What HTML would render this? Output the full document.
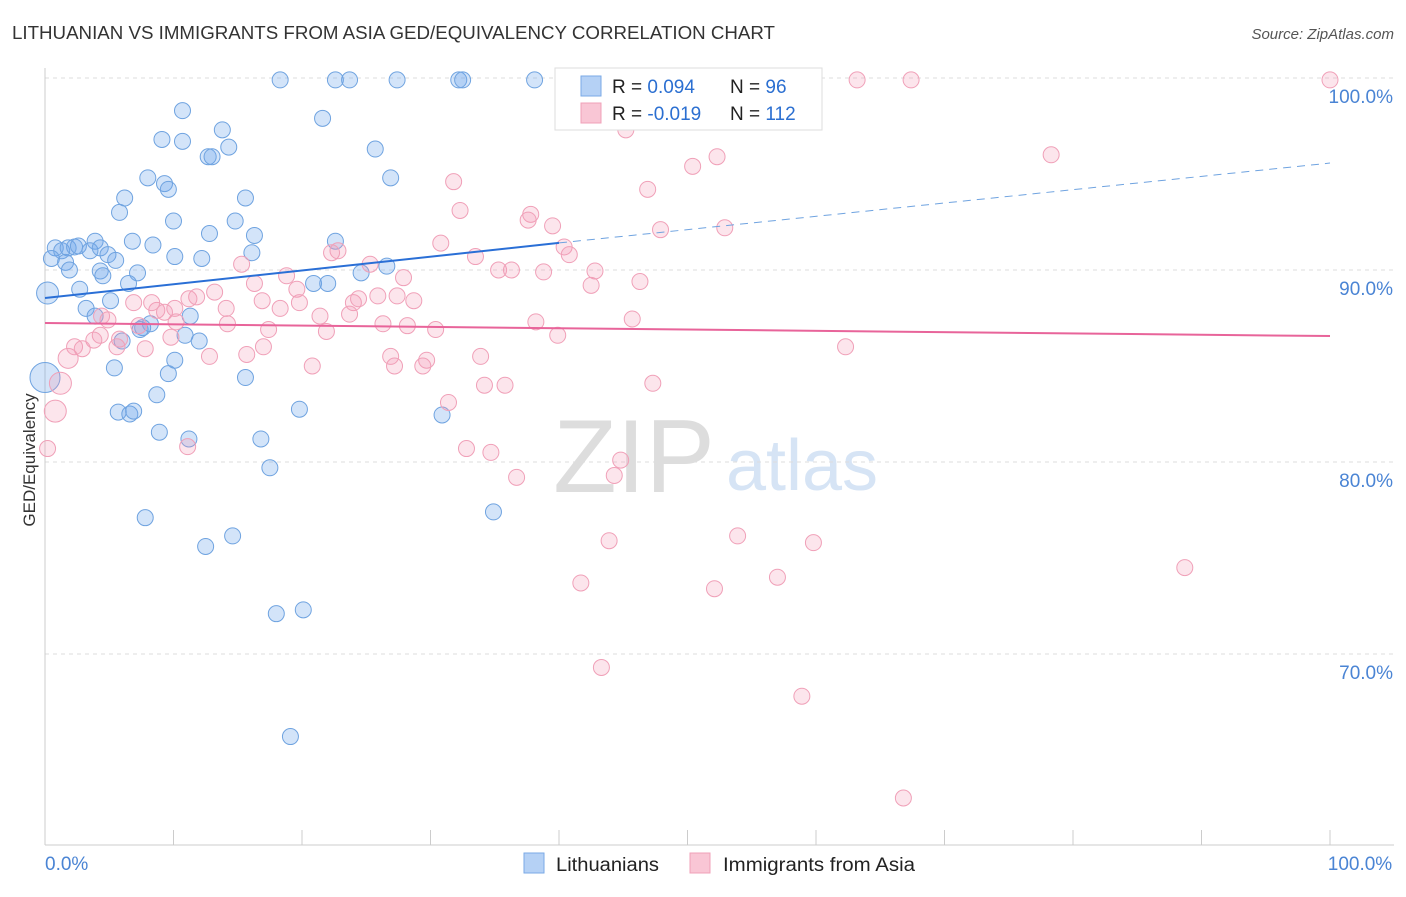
<!DOCTYPE html>
<html><head><meta charset="utf-8"><style>
body{margin:0;background:#fff;font-family:"Liberation Sans",sans-serif;}
svg text{font-family:"Liberation Sans",sans-serif;}
</style></head><body>
<svg id="chart" width="1406" height="892">
<text x="12" y="39" font-size="18" fill="#333" textLength="763" lengthAdjust="spacingAndGlyphs">LITHUANIAN VS IMMIGRANTS FROM ASIA GED/EQUIVALENCY CORRELATION CHART</text>
<text x="1394" y="39" font-size="15" fill="#555" font-style="italic" text-anchor="end">Source: ZipAtlas.com</text>
<text x="634" y="492" font-size="104" fill="#ddd" font-family="Liberation Serif" text-anchor="middle">ZIP</text>
<text x="802" y="490" font-size="72" fill="#d6e4f5" text-anchor="middle">atlas</text>
<g id="grid"></g><g id="axes"></g><g id="pts"></g><g id="lines"></g>
<text x="35" y="460" font-size="17" fill="#333" transform="rotate(-90 35 460)" text-anchor="middle">GED/Equivalency</text>
<g>
<rect x="555" y="68" width="267" height="62" fill="#fff" stroke="#ddd"/>
<rect x="581" y="76" width="20" height="20" fill="#b5d1f5" stroke="#7aa9e6"/>
<rect x="581" y="103" width="20" height="20" fill="#f9c6d5" stroke="#f0a0b8"/>
<text x="612" y="93" font-size="19" fill="#222">R = <tspan fill="#2b6fd1"> 0.094</tspan></text>
<text x="730" y="93" font-size="19" fill="#222">N = <tspan fill="#2b6fd1"> 96</tspan></text>
<text x="612" y="120" font-size="19" fill="#222">R = <tspan fill="#2b6fd1">-0.019</tspan></text>
<text x="730" y="120" font-size="19" fill="#222">N = <tspan fill="#2b6fd1">112</tspan></text>
</g>
<g>
<rect x="524" y="853" width="20" height="20" fill="#b5d1f5" stroke="#7aa9e6"/>
<text x="556" y="871" font-size="19" fill="#222" textLength="103" lengthAdjust="spacingAndGlyphs">Lithuanians</text>
<rect x="690" y="853" width="20" height="20" fill="#f9c6d5" stroke="#f0a0b8"/>
<text x="723" y="871" font-size="19" fill="#222" textLength="192" lengthAdjust="spacingAndGlyphs">Immigrants from Asia</text>
</g>
</svg>
<script>
const yTicks=[100,90,80,70];
const yTickLabels=["100.0%","90.0%","80.0%","70.0%"];
const xTicks=[0,10,20,30,40,50,60,70,80,90,100];
const xEndLabels=["0.0%","100.0%"];
const blueX=[18.3,22.6,23.7,27.4,32.2,32.5,38.1,10.7,21.6,9.1,10.7,13.8,14.3,12.7,13.0,25.7,8.0,9.3,9.6,6.2,15.6,26.9,5.8,10.0,14.8,12.8,6.8,8.4,16.3,22.6,0.8,1.3,1.8,2.3,2.6,3.9,3.5,4.3,0.5,1.6,4.9,5.5,10.1,12.2,16.1,1.9,4.3,4.5,7.2,0.2,2.7,5.1,6.5,20.9,22.0,24.6,26.6,3.2,3.9,8.2,7.6,7.4,11.3,10.9,12.0,6.0,5.4,10.1,9.6,15.6,0,8.7,5.7,6.6,6.9,19.8,30.9,8.9,11.2,16.8,17.5,34.9,7.8,14.6,12.5,18.0,20.1,19.1];
const blueY=[99.9,99.9,99.9,99.9,99.9,99.9,99.9,98.3,97.9,96.8,96.7,97.3,96.4,95.9,95.9,96.3,94.8,94.5,94.2,93.75,93.75,94.8,93.0,92.55,92.55,91.9,91.5,91.3,91.8,91.5,91.15,91.0,91.15,91.2,91.25,91.5,91.0,91.15,90.6,90.4,90.8,90.5,90.7,90.6,90.9,90.0,89.95,89.7,89.85,88.8,89.0,88.4,89.3,89.3,89.3,89.85,90.2,88.0,87.6,87.2,87.0,86.9,87.6,86.6,86.3,86.3,84.9,85.3,84.6,84.4,84.4,83.5,82.6,82.5,82.65,82.75,82.45,81.55,81.2,81.2,79.7,77.4,77.1,76.15,75.6,72.1,72.3,65.7];
const blueBig={49:11,70:15};
const pinkX=[63.2,67.4,100,53.4,45.2,78.3,52.3,50.4,46.9,31.8,32.3,37.8,37.6,39.5,47.9,52.9,88.7,30.8,33.5,40.4,40.8,22.8,22.3,15.3,25.3,35.3,36.3,38.8,42.8,27.9,42.5,46.3,18.8,16.3,19.6,16.9,18.3,19.8,14.1,13.2,11.8,11.2,10.1,8.7,9.3,10.2,6.9,8.3,7.3,4.9,4.4,24.0,24.4,25.9,27.4,28.7,21.4,23.7,14.2,17.4,21.9,26.3,28.2,30.4,38.2,39.9,45.7,9.8,5.8,5.6,7.8,4.3,3.8,2.9,2.3,1.8,1.2,0.8,0.2,17.0,15.7,12.8,26.9,29.7,29.4,33.9,20.8,27.2,34.2,35.8,47.3,62.3,31.4,32.8,34.7,36.7,44.8,44.3,43.9,53.9,59.8,41.7,52.1,57.0,43.3,58.9,66.8,11.1];
const pinkY=[99.9,99.9,99.9,98.6,97.3,96.0,95.9,95.4,94.2,94.6,93.1,92.9,92.6,92.3,92.1,92.2,74.5,91.4,90.7,91.2,90.8,91.0,90.9,90.3,90.3,90.0,90.0,89.9,89.95,89.6,89.2,89.4,89.7,89.3,89.0,88.4,88.0,88.3,88.0,88.85,88.6,88.5,88.0,87.9,87.8,87.3,88.3,88.3,87.1,87.4,87.6,88.3,88.5,88.65,88.65,88.4,87.6,87.7,87.2,86.9,86.8,87.2,87.1,86.9,87.3,86.6,87.45,86.5,86.4,86.0,85.9,86.6,86.35,85.9,86.0,85.4,84.1,82.65,80.7,86.0,85.6,85.5,85.5,85.3,85.0,85.5,85.0,85.0,84.0,84.0,84.1,86.0,83.1,80.7,80.5,79.2,80.1,79.3,75.9,76.15,75.8,73.7,73.4,74.0,69.3,67.8,62.5,80.8];
const pinkBig={75:10,76:11,77:11};
const blueLine=[[0,88.54],[40,91.41],[100,95.57]];
const pinkLine=[[0,87.24],[100,86.56]];
const X0=45,X1=1330,Y0=78,PPY=19.2;
const sx=v=>X0+(X1-X0)*v/100;
const sy=v=>Y0+(100-v)*PPY;
const NS="http://www.w3.org/2000/svg";
function mk(tag,attrs,parent){const e=document.createElementNS(NS,tag);for(const k in attrs)e.setAttribute(k,attrs[k]);document.getElementById(parent).appendChild(e);return e;}
yTicks.forEach((t,i)=>{
 const g=mk('line',{x1:X0,x2:1394,y1:sy(t),y2:sy(t),stroke:'#ddd','stroke-dasharray':'4 4'},'grid');
 
 
 const l=mk('text',{x:1393,y:sy(t)+25,'font-size':19,fill:'#4a84d4','text-anchor':'end'},'axes');
 l.textContent=yTickLabels[i];
 
 
});
const ax=mk('line',{x1:X0,x2:X0,y1:68,y2:845,stroke:'#ccc'},'axes');


const bx=mk('line',{x1:X0,x2:1394,y1:845,y2:845,stroke:'#ccc'},'axes');


xTicks.forEach(t=>{
 const k=mk('line',{x1:sx(t),x2:sx(t),y1:830,y2:845,stroke:'#ccc'},'axes');
 
 
});
[[0,'start',45],[100,'middle',1360]].forEach((d,i)=>{
 const l=mk('text',{x:d[2],y:870,'font-size':19,fill:'#4a84d4','text-anchor':d[1]},'axes');
 l.textContent=xEndLabels[i];
 
 
});
blueX.forEach((x,i)=>{
 const c=mk('circle',{cx:sx(x),cy:sy(blueY[i]),r:blueBig[i]||8,fill:'rgba(110,165,235,0.3)',stroke:'#6fa3e0','stroke-width':1},'pts');
 
 
});
pinkX.forEach((x,i)=>{
 const c=mk('circle',{cx:sx(x),cy:sy(pinkY[i]),r:pinkBig[i]||8,fill:'rgba(245,150,180,0.25)',stroke:'#f0a0b8','stroke-width':1},'pts');
 
 
});
const b1=mk('line',{x1:sx(blueLine[0][0]),y1:sy(blueLine[0][1]),x2:sx(blueLine[1][0]),y2:sy(blueLine[1][1]),stroke:'#2a6fd6','stroke-width':2},'lines');


const b2=mk('line',{x1:sx(blueLine[1][0]),y1:sy(blueLine[1][1]),x2:sx(blueLine[2][0]),y2:sy(blueLine[2][1]),stroke:'#6fa3e0','stroke-width':1,'stroke-dasharray':'8 6'},'lines');


const p1=mk('line',{x1:sx(pinkLine[0][0]),y1:sy(pinkLine[0][1]),x2:sx(pinkLine[1][0]),y2:sy(pinkLine[1][1]),stroke:'#e8649a','stroke-width':2},'lines');


</script>
</body></html>
